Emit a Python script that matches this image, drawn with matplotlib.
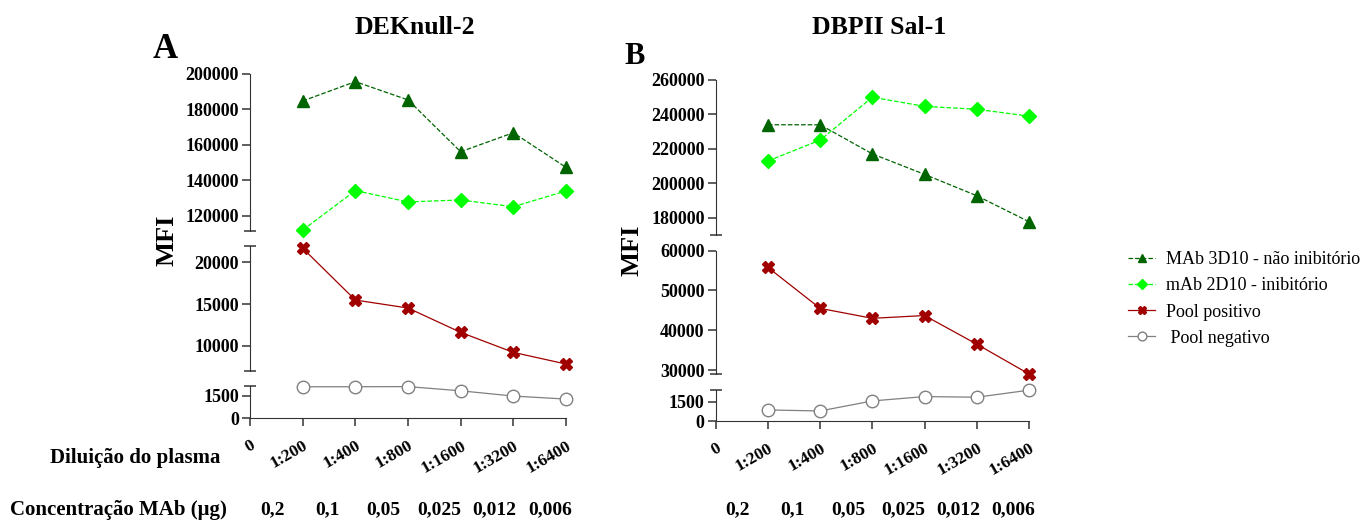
import matplotlib
matplotlib.use("Agg")
import numpy as np
import matplotlib.pyplot as plt
import matplotlib.transforms as mtransforms

plt.rcParams['font.family'] = ['Liberation Serif', 'DejaVu Serif']
plt.rcParams['font.weight'] = 'bold'

# Diluições do plasma (eixo x) e concentração do anticorpo monoclonal
diluicoes = ["0", "1:200", "1:400", "1:800", "1:1600", "1:3200", "1:6400"]
concentracoes = ["0,2", "0,1", "0,05", "0,025", "0,012", "0,006"]
x_pos = [1, 2, 3, 4, 5, 6]

# A - DEKnull-2 (MFI)
dek_3d10 = [184800, 195700, 185400, 156200, 166900, 147400]
dek_2d10 = [112000, 134300, 127900, 129000, 125200, 134100]
dek_pos = [21700, 15480, 14520, 11600, 9200, 7800]
dek_neg = [2100, 2100, 2110, 1830, 1480, 1280]

# B - DBPII Sal-1 (MFI)
sal_3d10 = [234000, 234000, 217100, 205200, 192800, 177700]
sal_2d10 = [213000, 225100, 250000, 244700, 243000, 239000]
sal_pos = [55800, 45500, 43000, 43700, 36500, 29000]
sal_neg = [855, 777, 1554, 1890, 1840, 2386]

# estilos das séries
est_3d10 = dict(color="#006400", ls="--", lw=0.9, marker="^", ms=8.5,
                label="MAb 3D10 - não inibitório")
est_2d10 = dict(color="#00ff00", ls="--", lw=0.9, marker="D", ms=7.5,
                label="mAb 2D10 - inibitório")
est_pos = dict(color="#a00000", ls="-", lw=0.9, marker="X", ms=8,
               label="Pool positivo")
est_neg = dict(color="#808080", ls="-", lw=0.9, marker="o", ms=9,
               mfc="white", mec="#808080", label="Pool negativo")

W, H = 1366, 520
fig = plt.figure(figsize=(W / 100, H / 100), dpi=100)


def px(x0, x1, y_top, y_bot):
    # retângulo do eixo em frações da figura a partir de pixels
    return [x0 / W, 1 - y_bot / H, (x1 - x0) / W, (y_bot - y_top) / H]


def segmento(rect, ylim, yticks, base=False):
    ax = fig.add_axes(rect)
    ax.set_xlim(0, 6)
    ax.set_ylim(*ylim)
    ax.patch.set_alpha(0)
    for s in ["top", "right"]:
        ax.spines[s].set_visible(False)
    ax.spines["left"].set_color("#333333")
    ax.spines["bottom"].set_color("#333333")
    ax.set_yticks(yticks)
    ax.set_yticklabels([str(t) for t in yticks], fontsize=13, fontweight="bold")
    quebras = [v for v in ylim if v not in yticks]
    if base:
        quebras = [v for v in quebras if v != ylim[0]]
    ax.set_yticks(quebras, minor=True)
    ax.tick_params(axis="y", which="major", direction="out", length=6,
                   width=1.1, pad=2, color="#333333")
    ax.tick_params(axis="y", which="minor", direction="inout", length=9,
                   width=1.1, color="#333333")
    if base:
        ax.set_xticks(range(7))
        ax.set_xticklabels(diluicoes, rotation=30, ha="right", va="top",
                           rotation_mode="anchor", fontsize=12.5, fontweight="bold")
        ax.tick_params(axis="x", direction="out", length=6, width=1.1,
                       pad=8, color="#333333")
    else:
        ax.spines["bottom"].set_visible(False)
        ax.set_xticks([])
    return ax


def painel(x0, x1, segs, series, titulo, letra, letra_xy, letra_fs, ylabel_xy):
    eixos = []
    for i, (yt, yb, ylim, ticks) in enumerate(segs):
        eixos.append(segmento(px(x0, x1, yt, yb), ylim, ticks, base=(i == len(segs) - 1)))
    for ax, (valores, estilo) in zip(eixos, series):
        ax.plot(x_pos, valores, clip_on=False, zorder=3, **estilo)
    fig.text((x0 + x1) / 2 / W + 0.005, 1 - 28 / H, titulo, ha="center", va="center",
             fontsize=18.5, fontweight="bold")
    fig.text(letra_xy[0] / W, 1 - letra_xy[1] / H, letra, ha="center", va="center",
             fontsize=letra_fs, fontweight="bold")
    fig.text(ylabel_xy[0] / W, 1 - ylabel_xy[1] / H, "MFI", rotation=90, ha="center",
             va="center", fontsize=19, fontweight="bold")
    base = eixos[-1]
    trans = mtransforms.blended_transform_factory(base.transData, fig.transFigure)
    for xc, txt in zip(np.linspace(0.42, 5.7, 6), concentracoes):
        base.text(xc, 1 - 510 / H, txt, transform=trans,
                  ha="center", va="center", fontsize=14, fontweight="bold")
    return eixos


eixos_a = painel(
    250, 566,
    [(74, 230.5, (111800, 200000), [120000, 140000, 160000, 180000, 200000]),
     (245.7, 370.7, (7000, 22000), [10000, 15000, 20000]),
     (386, 418.3, (0, 2150), [0, 1500])],
    [(dek_3d10, est_3d10), (dek_pos, est_pos), (dek_neg, est_neg)],
    "DEKnull-2", "A", (165, 50), 25, (167, 240))
eixos_a[0].plot(x_pos, dek_2d10, clip_on=False, zorder=3, **est_2d10)

eixos_b = painel(
    715.7, 1029,
    [(80, 235, (170000, 260000), [180000, 200000, 220000, 240000, 260000]),
     (250.7, 374, (29000, 60000), [30000, 40000, 50000, 60000]),
     (390, 421, (0, 2400), [0, 1500])],
    [(sal_3d10, est_3d10), (sal_pos, est_pos), (sal_neg, est_neg)],
    "DBPII Sal-1", "B", (635, 57), 22, (632, 250))
eixos_b[0].plot(x_pos, sal_2d10, clip_on=False, zorder=3, **est_2d10)

# rótulos das linhas de baixo
fig.text(135 / W, 1 - 458 / H, "Diluição do plasma", ha="center", va="center",
         fontsize=15, fontweight="bold")
fig.text(118 / W, 1 - 510 / H, "Concentração MAb (μg)", ha="center", va="center",
         fontsize=15, fontweight="bold")

# legenda
handles, labels = [], []
for ax in eixos_a:
    h, l = ax.get_legend_handles_labels()
    handles += h
    labels += l
ordem = ["MAb 3D10 - não inibitório", "mAb 2D10 - inibitório", "Pool positivo", "Pool negativo"]
mapa = dict(zip(labels, handles))
fig.legend([mapa[k] for k in ordem], [" " + k if k == "Pool negativo" else k for k in ordem],
           loc="center left", bbox_to_anchor=(1112 / W, 1 - 299 / H), frameon=False,
           prop=dict(family="Liberation Serif", weight="normal", size=13),
           handlelength=1.5, handletextpad=0.6, labelspacing=0.5, markerscale=0.7)

fig.savefig("out.png", dpi=100)
